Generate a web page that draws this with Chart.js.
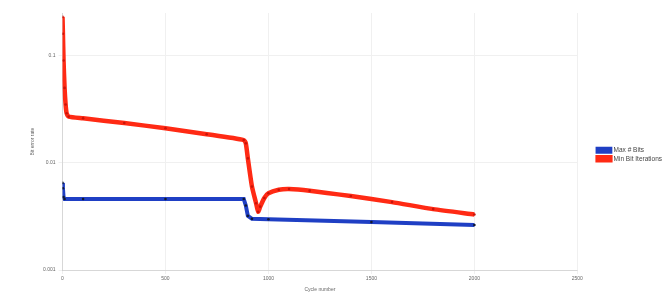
<!DOCTYPE html>
<html>
<head>
<meta charset="utf-8">
<script src="https://cdn.jsdelivr.net/npm/chart.js@4"></script>
<style>
  body { margin: 0; background: #fff; }
  #wrap { width: 671px; height: 298px; }
</style>
</head>
<body>
<div id="wrap"><canvas id="myChart"></canvas></div>
<script>
// cycles and error rates
let redCycles = [0, 2, 5, 10, 15, 20, 30, 100, 300, 500, 700, 880, 890, 900, 920, 940, 950, 960, 980, 1000, 1050, 1100, 1200, 1400, 1600, 1800, 2000];
let redValues = [0.23, 0.16, 0.09, 0.05, 0.035, 0.029, 0.027, 0.026, 0.0235, 0.021, 0.0185, 0.0163, 0.0152, 0.011, 0.006, 0.0042, 0.0035, 0.0039, 0.0047, 0.0052, 0.0056, 0.0057, 0.0055, 0.0049, 0.0043, 0.0037, 0.0033];
let blueCycles = [0, 2, 5, 10, 100, 500, 880, 890, 900, 920, 1000, 1500, 2000];
let blueValues = [0.0065, 0.0058, 0.0048, 0.0046, 0.0046, 0.0046, 0.0046, 0.004, 0.0032, 0.003, 0.00298, 0.0028, 0.00263];
let seriesNames = ["Max # Bits", "Min Bit Iterations"];
let xTicks = [0, 500, 1000, 1500, 2000, 2500];
let yTicks = [0.001, 0.01, 0.1];

function toPoints(xs, ys) {
  let out = [];
  for (let i = 0; i < xs.length; i++) out.push({ x: xs[i], y: ys[i] });
  return out;
}

// leave a wider gap between the plot and the legend
let legendGap = {
  id: 'legendGap',
  beforeLayout: function(chart) {
    let lg = chart.legend;
    if (!lg || lg._gapDone) return;
    lg._gapDone = true;
    let fit = lg.fit;
    lg.fit = function() { fit.call(this); this.width += 11; };
    let draw = lg.draw;
    lg.draw = function() {
      this.ctx.save();
      this.ctx.translate(18, 0);
      draw.call(this);
      this.ctx.restore();
    };
  }
};

let ctx = document.getElementById("myChart").getContext('2d');
let myChart = new Chart(ctx, {
  type: 'line',
  data: {
    datasets: [{
      label: seriesNames[0],
      data: toPoints(blueCycles, blueValues),
      borderColor: '#1f3fc4',
      backgroundColor: '#101830',
      pointBackgroundColor: '#101830',
      pointBorderWidth: 0,
      pointRadius: 1.3,
      borderWidth: 4,
      tension: 0
    }, {
      label: seriesNames[1],
      data: toPoints(redCycles, redValues),
      borderColor: '#ff2a14',
      backgroundColor: '#c8140a',
      pointBackgroundColor: '#c8140a',
      pointBorderWidth: 0,
      pointRadius: 1.3,
      borderWidth: 4.5,
      tension: 0.2
    }]
  },
  options: {
    responsive: true,
    maintainAspectRatio: false,
    animation: false,
    layout: { padding: { top: 13, right: 6, left: 26, bottom: 2 } },
    plugins: {
      legend: {
        position: 'right',
        labels: { boxWidth: 13, boxHeight: 3, font: { size: 6.5 }, color: '#444', padding: 2 }
      },
      tooltip: { enabled: false }
    },
    scales: {
      x: {
        type: 'linear',
        min: xTicks[0],
        max: xTicks[xTicks.length - 1],
        ticks: {
          stepSize: 500, font: { size: 5 }, color: '#666', padding: 2,
          callback: function(v) { return String(v); }
        },
        grid: { color: '#f0f0f0', tickLength: 4 },
        title: { display: true, text: 'Cycle number', font: { size: 5 }, color: '#666', padding: 3 }
      },
      y: {
        type: 'logarithmic',
        min: yTicks[0],
        max: 0.25,
        afterBuildTicks: function(axis) {
          axis.ticks = yTicks.map(function(v) { return { value: v }; });
        },
        ticks: {
          font: { size: 5 }, color: '#666',
          callback: function(v) { return String(v); }
        },
        grid: { color: '#f0f0f0', tickLength: 4 },
        title: { display: true, text: 'Bit error rate', font: { size: 5 }, color: '#666' }
      }
    }
  },
  plugins: [legendGap]
});
</script>
</body>
</html>
